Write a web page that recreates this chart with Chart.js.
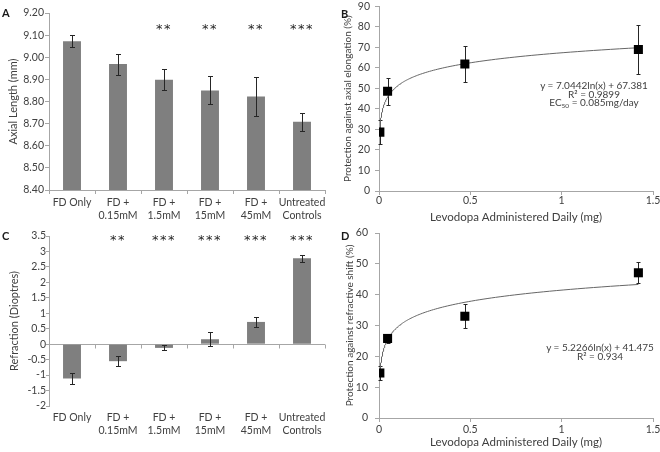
<!DOCTYPE html>
<html>
<head>
<meta charset="utf-8">
<script src="https://cdn.jsdelivr.net/npm/chart.js@4.4.1/dist/chart.umd.min.js"></script>
<style>
body { margin: 0; background: #fff; }
#wrap { position: relative; width: 660px; height: 452px; overflow: hidden; font-family: Lato, sans-serif; color: #404040; }
canvas { position: absolute; }
.panel { position: absolute; font-weight: bold; font-size: 11px; color: #1a1a1a; line-height: 11px; }
.eq { position: absolute; font-size: 10px; text-align: center; white-space: nowrap; transform: translateX(-50%); }
.eq sub { font-size: 6.5px; vertical-align: -2px; line-height: 0; }
</style>
</head>
<body>
<div id="wrap">
  <canvas id="chartA" width="330" height="226" style="left:0;top:0"></canvas>
  <canvas id="chartB" width="330" height="226" style="left:330px;top:0"></canvas>
  <canvas id="chartC" width="330" height="226" style="left:0;top:226px"></canvas>
  <canvas id="chartD" width="330" height="226" style="left:330px;top:226px"></canvas>
  <div class="panel" style="left:2px;top:7px">A</div>
  <div class="panel" style="left:341px;top:8px">B</div>
  <div class="panel" style="left:2px;top:230px">C</div>
  <div class="panel" style="left:341px;top:230px">D</div>
  <div class="eq" style="left:594px;top:81px;line-height:8.7px">y = 7.0442ln(x) + 67.381<br>R² = 0.9899<br>EC<sub>50</sub> = 0.085mg/day</div>
  <div class="eq" style="left:600px;top:343px;line-height:9px">y = 5.2266ln(x) + 41.475<br>R² = 0.934</div>
</div>
<script>
// groups shown in panels A and C
const groups = ['FD Only', ['FD +', '0.15mM'], ['FD +', '1.5mM'], ['FD +', '15mM'], ['FD +', '45mM'], ['Untreated', 'Controls']];

// A: axial length (mm)
const axialLength = [9.072, 8.969, 8.898, 8.850, 8.823, 8.709];
const axialErr = [0.027, 0.047, 0.048, 0.063, 0.087, 0.041];
const axialStars = ['', '', '**', '**', '**', '***'];
const axialTicks = [8.4, 8.5, 8.6, 8.7, 8.8, 8.9, 9.0, 9.1, 9.2];

// C: refraction (dioptres)
const refraction = [-1.11, -0.55, -0.12, 0.16, 0.72, 2.78];
const refractionErr = [0.18, 0.17, 0.08, 0.23, 0.15, 0.12];
const refractionStars = ['', '**', '***', '***', '***', '***'];

// B and D: protection vs daily levodopa dose
const doseMg = [0.0047, 0.047, 0.47, 1.42];
const axialProtection = [28.7, 48.6, 61.9, 69.0];
const axialProtectionErr = [5.8, 6.7, 8.6, 11.8];
const refractProtection = [14.6, 25.8, 33.0, 47.1];
const refractProtectionErr = [2.3, 1.6, 3.9, 3.4];

// log trendlines as printed on the figure: y = a ln(x) + b
const axialFit = { a: 7.0442, b: 67.381 };
const refractFit = { a: 5.2266, b: 41.475 };

const textColor = '#404040';
const axisGray = '#a6a6a6';
const barGray = '#7f7f7f';
Chart.defaults.font.family = 'Lato, sans-serif';
Chart.defaults.font.size = 11;
Chart.defaults.font.lineHeight = 1.1;
Chart.defaults.color = textColor;
const yTickFont = { size: 10.5 };
const catFont = { size: 10.5, lineHeight: 1.15 };

function trend(fit) {
  const pts = [];
  const lo = doseMg[0], hi = doseMg[doseMg.length - 1];
  for (let k = 0; k <= 150; k++) {
    const x = lo * Math.pow(hi / lo, k / 150);
    pts.push({ x: x, y: fit.a * Math.log(x) + fit.b });
  }
  return pts;
}

function fixY(w) {
  return s => { s.width = w; s.paddingTop = 0; s.paddingBottom = 0; };
}
function fixX(h) {
  return s => { s.height = h; s.paddingLeft = 0; s.paddingRight = 0; };
}
const numLabel = v => String(Math.round(v * 100) / 100);

function errorBars(errs, cap, below) {
  const draw = chart => {
    const meta = chart.getDatasetMeta(0);
    const ys = chart.scales.y;
    const ctx = chart.ctx;
    ctx.save();
    ctx.strokeStyle = '#262626';
    ctx.lineWidth = 1;
    meta.data.forEach((el, i) => {
      const raw = chart.data.datasets[0].data[i];
      const v = typeof raw === 'object' ? raw.y : raw;
      const x = Math.round(el.x) + 0.5;
      const y1 = Math.round(ys.getPixelForValue(v + errs[i])) + 0.5;
      const y2 = Math.round(ys.getPixelForValue(v - errs[i])) + 0.5;
      ctx.beginPath();
      ctx.moveTo(x, y1); ctx.lineTo(x, y2);
      ctx.moveTo(x - cap, y1); ctx.lineTo(x + cap, y1);
      ctx.moveTo(x - cap, y2); ctx.lineTo(x + cap, y2);
      ctx.stroke();
    });
    ctx.restore();
  };
  return {
    id: 'errorBars',
    beforeDatasetsDraw(chart) { if (below) draw(chart); },
    afterDatasetsDraw(chart) { if (!below) draw(chart); }
  };
}

function starMarks(stars, level) {
  return {
    id: 'stars',
    afterDatasetsDraw(chart) {
      const ctx = chart.ctx;
      const xs = chart.scales.x, ys = chart.scales.y;
      ctx.save();
      ctx.fillStyle = '#262626';
      ctx.font = '13px "DejaVu Sans", sans-serif';
      ctx.letterSpacing = '1.5px';
      ctx.textAlign = 'center';
      ctx.textBaseline = 'middle';
      stars.forEach((s, i) => {
        if (!s) return;
        ctx.fillText(s, xs.getPixelForValue(i), ys.getPixelForValue(level) + 3);
      });
      ctx.restore();
    }
  };
}

// zero line with category ticks for panel C
const zeroAxis = {
  id: 'zeroAxis',
  beforeDatasetsDraw(chart) {
    const ctx = chart.ctx;
    const xs = chart.scales.x, ys = chart.scales.y;
    const y0 = Math.round(ys.getPixelForValue(0)) + 0.5;
    ctx.save();
    ctx.strokeStyle = axisGray;
    ctx.lineWidth = 1;
    ctx.beginPath();
    ctx.moveTo(chart.chartArea.left, y0);
    ctx.lineTo(chart.chartArea.right, y0);
    for (let i = 0; i <= groups.length; i++) {
      const x = Math.round(xs.getPixelForValue(i - 0.5)) + 0.5;
      ctx.moveTo(x, y0);
      ctx.lineTo(x, y0 + 4);
    }
    ctx.stroke();
    ctx.restore();
  }
};

const gridTicks = { display: true, drawOnChartArea: false, drawTicks: true, tickLength: 4, color: axisGray };
const baseOpts = {
  responsive: false,
  animation: false,
  events: [],
  plugins: { legend: { display: false }, tooltip: { enabled: false } }
};

// Panel A
new Chart(document.getElementById('chartA'), {
  type: 'bar',
  data: { labels: groups, datasets: [{ data: axialLength, backgroundColor: barGray, barPercentage: 0.39, categoryPercentage: 1 }] },
  options: Object.assign({}, baseOpts, {
    layout: { padding: { top: 13, right: 5, left: 0, bottom: 0 } },
    scales: {
      x: {
        grid: gridTicks, border: { color: axisGray },
        ticks: { padding: 3, font: catFont, maxRotation: 0, autoSkip: false },
        afterFit: fixX(36)
      },
      y: {
        min: 8.4, max: 9.2,
        afterBuildTicks: s => { s.ticks = axialTicks.map(v => ({ value: v })); },
        ticks: { padding: 1, font: yTickFont, autoSkip: false, callback: v => v.toFixed(2) },
        grid: gridTicks, border: { color: axisGray },
        title: { display: true, text: 'Axial Length (mm)', padding: { top: 7, bottom: 0 } },
        afterFit: fixY(49)
      }
    }
  }),
  plugins: [errorBars(axialErr, 2.5, false), starMarks(axialStars, 9.137)]
});

// Panel C
new Chart(document.getElementById('chartC'), {
  type: 'bar',
  data: { labels: groups, datasets: [{ data: refraction, backgroundColor: barGray, barPercentage: 0.39, categoryPercentage: 1 }] },
  options: Object.assign({}, baseOpts, {
    layout: { padding: { top: 10, right: 5, left: 0, bottom: 0 } },
    scales: {
      x: {
        grid: { display: false, drawTicks: false }, border: { display: false },
        ticks: { padding: 6, font: catFont, maxRotation: 0, autoSkip: false },
        afterFit: fixX(46)
      },
      y: {
        min: -2, max: 3.5,
        ticks: { stepSize: 0.5, padding: 0, font: yTickFont, autoSkip: false, callback: numLabel },
        grid: { display: true, drawOnChartArea: false, drawTicks: true, tickLength: 3, color: axisGray },
        border: { color: axisGray },
        title: { display: true, text: 'Refraction (Dioptres)', padding: { top: 8, bottom: 0 } },
        afterFit: fixY(49)
      }
    }
  }),
  plugins: [zeroAxis, errorBars(refractionErr, 2.5, false), starMarks(refractionStars, 3.44)]
});

function doseChart(id, values, errs, fit, ymax, yTitle, opts) {
  return new Chart(document.getElementById(id), {
    type: 'scatter',
    data: {
      datasets: [
        { data: doseMg.map((x, i) => ({ x: x, y: values[i] })), pointStyle: 'rect', pointRadius: 6.4, backgroundColor: '#000', borderColor: '#000', borderWidth: 0, order: 0 },
        { type: 'line', data: trend(fit), borderColor: '#666', borderWidth: 1, pointRadius: 0, tension: 0, fill: false, order: 1 }
      ]
    },
    options: Object.assign({}, baseOpts, {
      layout: { padding: { top: opts.top, right: 7, left: 0, bottom: 0 } },
      scales: {
        x: {
          type: 'linear', min: 0, max: 1.5,
          ticks: { stepSize: 0.5, padding: opts.xPad, font: yTickFont, callback: numLabel },
          grid: gridTicks, border: { color: axisGray },
          title: { display: true, text: 'Levodopa Administered Daily (mg)', font: { size: 11.5 }, padding: { top: 0, bottom: opts.titlePad } },
          afterFit: fixX(opts.xh)
        },
        y: {
          min: 0, max: ymax,
          ticks: { stepSize: 10, padding: opts.yPad, font: yTickFont, autoSkip: false },
          grid: gridTicks, border: { color: axisGray },
          title: { display: true, text: yTitle, font: { size: 10 }, padding: { top: opts.yTitlePad, bottom: 0 } },
          afterFit: fixY(49)
        }
      }
    }),
    plugins: [errorBars(errs, 2, true)]
  });
}

doseChart('chartB', axialProtection, axialProtectionErr, axialFit, 90,
  'Protection against axial elongation (%)', { top: 4, xh: 35, xPad: 0, titlePad: 2, yPad: 5, yTitlePad: 12 });
doseChart('chartD', refractProtection, refractProtectionErr, refractFit, 60,
  'Protection against refractive shift (%)', { top: 7, xh: 34, xPad: 2, titlePad: 3, yPad: 7, yTitlePad: 14 });
</script>
</body>
</html>
